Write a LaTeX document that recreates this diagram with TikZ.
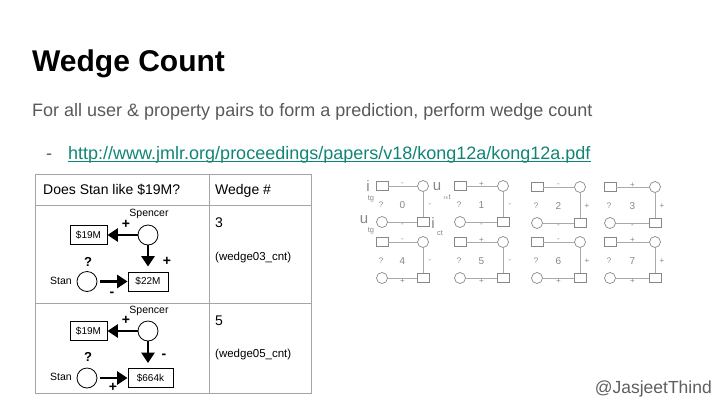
\documentclass[tikz,border=0pt]{standalone}
\usepackage{fontspec}
\setmainfont{Liberation Sans}
\usetikzlibrary{arrows.meta,calc}
\definecolor{subgray}{RGB}{89,89,89}
\definecolor{linkteal}{RGB}{17,133,117}
\definecolor{tabline}{RGB}{165,165,165}
\definecolor{gridgray}{RGB}{135,135,135}
\definecolor{gridline}{RGB}{170,170,170}
\definecolor{handlegray}{RGB}{95,95,95}
\newcommand\fsz[1]{\fontsize{#1}{#1}\selectfont}
\newcommand\wedgeg[8]{%
  \node[gsq] (#1a) at (#2,#4) {};
  \node[gci] (#1b) at (#3,#4) {};
  \node[gci] (#1c) at (#2,#4+36) {};
  \node[gsq] (#1d) at (#3,#4+36) {};
  \draw[gline] (#1a) -- (#1b);
  \draw[gline] (#1b) -- (#1d);
  \draw[gline] (#1c) -- (#1d);
  \node[gtx] (#1q) at (#2-1,#4+19) {?};
  \node[gnum] (#1n) at ({(#2+#3)/2},#4+19) {#5};
  \node[gtx] (#1t) at ({(#2+#3)/2},#4-2) {#6};
  \node[gtx] (#1v) at (#3+7,#4+19) {#7};
  \node[gtx] (#1w) at ({(#2+#3)/2},#4+39) {#8};
}
\begin{document}
\begin{tikzpicture}[x=1pt,y=-1pt,
  txt/.style={inner sep=0pt, anchor=base west},
  dcirc/.style={circle, draw, minimum size=20pt, inner sep=0pt, line width=0.8pt},
  dbox/.style={draw, minimum height=19pt, inner sep=0pt, line width=0.8pt, font=\fsz{10}},
  hvy/.style={line width=2.8pt, -{Triangle[length=10.5pt,width=13pt]}},
  dlab/.style={inner sep=0pt, font=\fsz{10.5}},
  dsign/.style={inner sep=0pt, font=\fsz{14}\bfseries},
  dq/.style={inner sep=0pt, font=\fsz{13}\bfseries},
  gsq/.style={draw=gridgray, minimum width=12pt, minimum height=9pt, inner sep=0pt, line width=0.7pt},
  gci/.style={draw=gridgray, circle, minimum size=11pt, inner sep=0pt, line width=0.7pt},
  gline/.style={draw=gridline, line width=0.7pt},
  gtx/.style={inner sep=0pt, text=gridgray, font=\fsz{8}},
  gnum/.style={inner sep=0pt, text=gridgray, font=\fsz{10}},
  glab/.style={inner sep=0pt, text=gridgray, font=\fsz{15}},
  gsub/.style={inner sep=0pt, text=gridgray, font=\fsz{7.5}}
]
\useasboundingbox (0,0) rectangle (720,405);

% heading
\node[txt, font=\fsz{30}\bfseries] (title) at (32,71) {Wedge Count};
\node[txt, font=\fsz{18}, text=subgray] (sub) at (32,116) {For all user \& property pairs to form a prediction, perform wedge count};
\node[txt, font=\fsz{18}, text=subgray] (dash) at (46,159) {-};
\node[txt, font=\fsz{18}, text=linkteal] (link) at (68,159) {http://www.jmlr.org/proceedings/papers/v18/kong12a/kong12a.pdf};
\draw[linkteal, line width=1pt] ([yshift=-2.5pt]link.base west) -- ([yshift=-2.5pt]link.base east);

% table
\draw[tabline, line width=0.9pt] (35,174) rectangle (311,393);
\draw[tabline, line width=0.9pt] (209,174) -- (209,393);
\draw[tabline, line width=0.9pt] (35,205) -- (311,205);
\draw[tabline, line width=0.9pt] (35,303) -- (311,303);
\node[txt, font=\fsz{14}] (hq) at (43,194) {Does Stan like \$19M?};
\node[txt, font=\fsz{14}] (hw) at (215,194) {Wedge \#};
\node[txt, font=\fsz{14}] (n3) at (215,227) {3};
\node[txt, font=\fsz{11.5}] (w3) at (215,260) {(wedge03\_cnt)};
\node[txt, font=\fsz{14}] (n5) at (215,325) {5};
\node[txt, font=\fsz{11.5}] (w5) at (215,357) {(wedge05\_cnt)};

% row 1 diagram
\node[dlab] (sp1) at (149,214) {Spencer};
\node[dcirc] (spc1) at (148,235) {};
\node[dbox, minimum width=37pt] (b19a) at (88.5,235) {\$19M};
\draw[hvy] (spc1) -- (b19a);
\node[dsign] (p1a) at (126,224) {+};
\node[dbox, minimum width=40pt] (b22) at (148,281.5) {\$22M};
\draw[hvy, shorten >=5pt] (spc1) -- (b22);
\node[dsign] (p1b) at (167,261) {+};
\node[dq] (q1) at (88,262) {?};
\node[dlab] (st1) at (61,281) {Stan};
\node[dcirc] (stc1) at (87,281.5) {};
\draw[hvy, shorten <=3pt] (stc1) -- (b22);
\node[dsign] (m1) at (112,294) {-};

% row 2 diagram
\node[dlab] (sp2) at (149,311) {Spencer};
\node[dcirc] (spc2) at (148,331) {};
\node[dbox, minimum width=37pt] (b19b) at (88.5,331) {\$19M};
\draw[hvy] (spc2) -- (b19b);
\node[dsign] (p2a) at (126,320) {+};
\node[dbox, minimum width=45pt] (b664) at (150.5,378) {\$664k};
\draw[hvy, shorten >=5pt] (spc2.south) -- (spc2.south |- b664.north);
\node[dsign] (m2) at (164,356) {-};
\node[dq] (q2) at (88,357) {?};
\node[dlab] (st2) at (61,377) {Stan};
\node[dcirc] (stc2) at (87,378) {};
\draw[hvy, shorten <=3pt] (stc2) -- (b664);
\node[dsign] (p2b) at (113,387) {+};

% wedge grid
\wedgeg{wa}{382}{423}{186}{0}{-}{-}{-}
\wedgeg{wb}{460}{503}{186}{1}{+}{-}{-}
\wedgeg{wc}{537}{580}{187}{2}{-}{+}{-}
\wedgeg{wd}{610}{655}{187}{3}{+}{+}{-}
\wedgeg{we}{382}{423}{242}{4}{-}{-}{+}
\wedgeg{wf}{460}{503}{242}{5}{+}{-}{+}
\wedgeg{wg}{537}{580}{242}{6}{-}{+}{+}
\wedgeg{wh}{610}{655}{242}{7}{+}{+}{+}
\node[glab] (li1) at (368,186) {i};
\node[gsub] (li1s) at (371,198.5) {tg};
\node[glab] (lu1) at (437,187) {u};
\node[gsub] (lu1s) at (447,197) {$\alpha$t};
\node[glab] (lu2) at (364,220) {u};
\node[gsub] (lu2s) at (371,230.5) {tg};
\node[glab] (li2) at (433,223) {i};
\node[gsub] (li2s) at (440,233) {ct};

% handle
\node[inner sep=0pt, anchor=base east, font=\fsz{17.5}, text=handlegray] (handle) at (712,393) {@JasjeetThind};
\end{tikzpicture}
\end{document}
